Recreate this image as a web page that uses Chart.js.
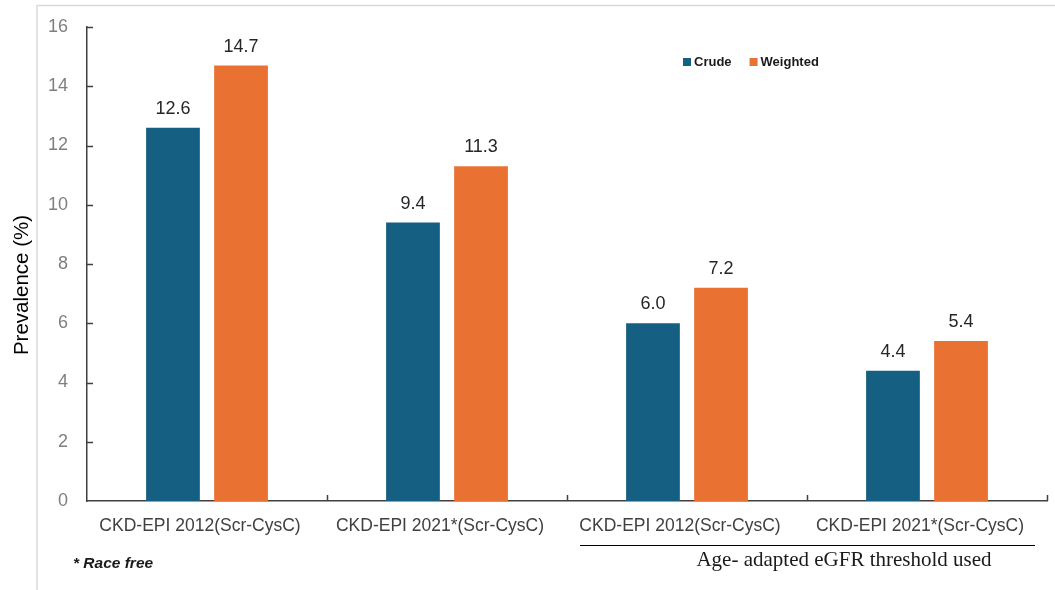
<!DOCTYPE html>
<html>
<head>
<meta charset="utf-8">
<script src="https://cdn.jsdelivr.net/npm/chart.js@4"></script>
<style>
html,body{margin:0;padding:0;background:#fff;}
#wrap{width:1055px;height:590px;position:relative;}
</style>
</head>
<body>
<div id="wrap"><canvas id="c" width="1055" height="590"></canvas></div>
<script>
const categories = ["CKD-EPI 2012(Scr-CysC)", "CKD-EPI 2021*(Scr-CysC)", "CKD-EPI 2012(Scr-CysC)", "CKD-EPI 2021*(Scr-CysC)"];
const seriesNames = ["Crude", "Weighted"];
const crudeValues = [12.6, 9.4, 6.0, 4.4];
const weightedValues = [14.7, 11.3, 7.2, 5.4];
const yTicks = [0, 2, 4, 6, 8, 10, 12, 14, 16];
const groupNote = "Age- adapted eGFR threshold used";
const footNote = "* Race free";
const yTitle = "Prevalence (%)";

const colors = ["#156082", "#E97132"];
const baseFont = "'Liberation Sans', Arial, sans-serif";

const decor = {
  id: "decor",
  afterDatasetsDraw(chart) {
    const ctx = chart.ctx;
    const x = chart.scales.x, y = chart.scales.y;
    const area = chart.chartArea;
    ctx.save();
    // frame
    ctx.strokeStyle = "#d9d9d9";
    ctx.lineWidth = 1.5;
    ctx.beginPath();
    ctx.moveTo(37, 590); ctx.lineTo(37, 5.5); ctx.lineTo(1055, 5.5);
    ctx.stroke();
    // y ticks (inside)
    ctx.strokeStyle = "#404040";
    ctx.lineWidth = 1.5;
    ctx.beginPath();
    yTicks.forEach(v => {
      const py = Math.round(y.getPixelForValue(v)) + 0.5;
      if (v === 0) return;
      ctx.moveTo(area.left, py); ctx.lineTo(area.left + 6, py);
    });
    // x ticks at category boundaries (inside)
    const step = (area.right - area.left) / categories.length;
    for (let i = 1; i <= categories.length; i++) {
      const px = Math.round(x.getPixelForValue(i - 1) + step / 2) + 0.5;
      ctx.moveTo(px, area.bottom); ctx.lineTo(px, area.bottom - 6);
    }
    ctx.stroke();
    // value labels
    ctx.fillStyle = "#262626";
    ctx.font = "18px " + baseFont;
    ctx.textAlign = "center";
    ctx.textBaseline = "alphabetic";
    chart.data.datasets.forEach((ds, di) => {
      const meta = chart.getDatasetMeta(di);
      meta.data.forEach((bar, i) => {
        ctx.fillText(ds.data[i].toFixed(1), bar.x, bar.y - 14);
      });
    });
    // y title
    ctx.save();
    ctx.translate(22, 285);
    ctx.rotate(-Math.PI / 2);
    ctx.fillStyle = "#000";
    ctx.font = "20.5px " + baseFont;
    ctx.textAlign = "center";
    ctx.textBaseline = "middle";
    ctx.fillText(yTitle, 0, 0);
    ctx.restore();
    // legend
    ctx.font = "bold 13px 'Liberation Sans Narrow', 'Arial Narrow', " + baseFont;
    ctx.textAlign = "left";
    ctx.textBaseline = "middle";
    let lx = 683;
    const ly = 62;
    seriesNames.forEach((n, i) => {
      ctx.fillStyle = colors[i];
      ctx.fillRect(lx, ly - 4, 8, 8);
      ctx.fillStyle = "#1a1a1a";
      ctx.fillText(n, lx + 11, ly);
      lx += 11 + ctx.measureText(n).width + 18;
    });
    // group line + note
    ctx.strokeStyle = "#000";
    ctx.lineWidth = 1;
    ctx.beginPath();
    ctx.moveTo(580, 545.5); ctx.lineTo(1035, 545.5);
    ctx.stroke();
    ctx.fillStyle = "#1a1a1a";
    ctx.font = "21px 'Liberation Serif', 'Times New Roman', serif";
    ctx.textAlign = "center";
    ctx.textBaseline = "alphabetic";
    ctx.fillText(groupNote, 844, 566);
    // footnote
    ctx.font = "italic bold 15.5px " + baseFont;
    ctx.textAlign = "left";
    ctx.fillStyle = "#1a1a1a";
    ctx.fillText(footNote, 73, 568);
    ctx.restore();
  }
};

new Chart(document.getElementById("c"), {
  type: "bar",
  data: {
    labels: categories,
    datasets: [
      { label: seriesNames[0], data: crudeValues, backgroundColor: colors[0], categoryPercentage: 0.567, barPercentage: 0.79 },
      { label: seriesNames[1], data: weightedValues, backgroundColor: colors[1], categoryPercentage: 0.567, barPercentage: 0.79 }
    ]
  },
  options: {
    responsive: false,
    animation: false,
    layout: { padding: { left: 0, right: 8, top: 27, bottom: 0 } },
    plugins: { legend: { display: false }, tooltip: { enabled: false } },
    scales: {
      x: {
        grid: { display: false, drawTicks: false },
        border: { display: true, color: "#404040", width: 1.5 },
        ticks: { color: "#404040", font: { size: 17.5, family: baseFont }, padding: 15, labelOffset: -7, maxRotation: 0, autoSkip: false },
        afterFit(s) { s.height = 89; s.paddingLeft = 0; s.paddingRight = 0; }
      },
      y: {
        min: 0, max: 16,
        afterBuildTicks(s) { s.ticks = yTicks.map(v => ({ value: v })); },
        grid: { display: false, drawTicks: false },
        border: { display: true, color: "#404040", width: 1.5 },
        ticks: { color: "#7f7f7f", font: { size: 18, family: baseFont }, padding: 19 },
        afterFit(s) { s.width = 87; s.paddingTop = 0; s.paddingBottom = 0; }
      }
    }
  },
  plugins: [decor]
});
</script>
</body>
</html>
